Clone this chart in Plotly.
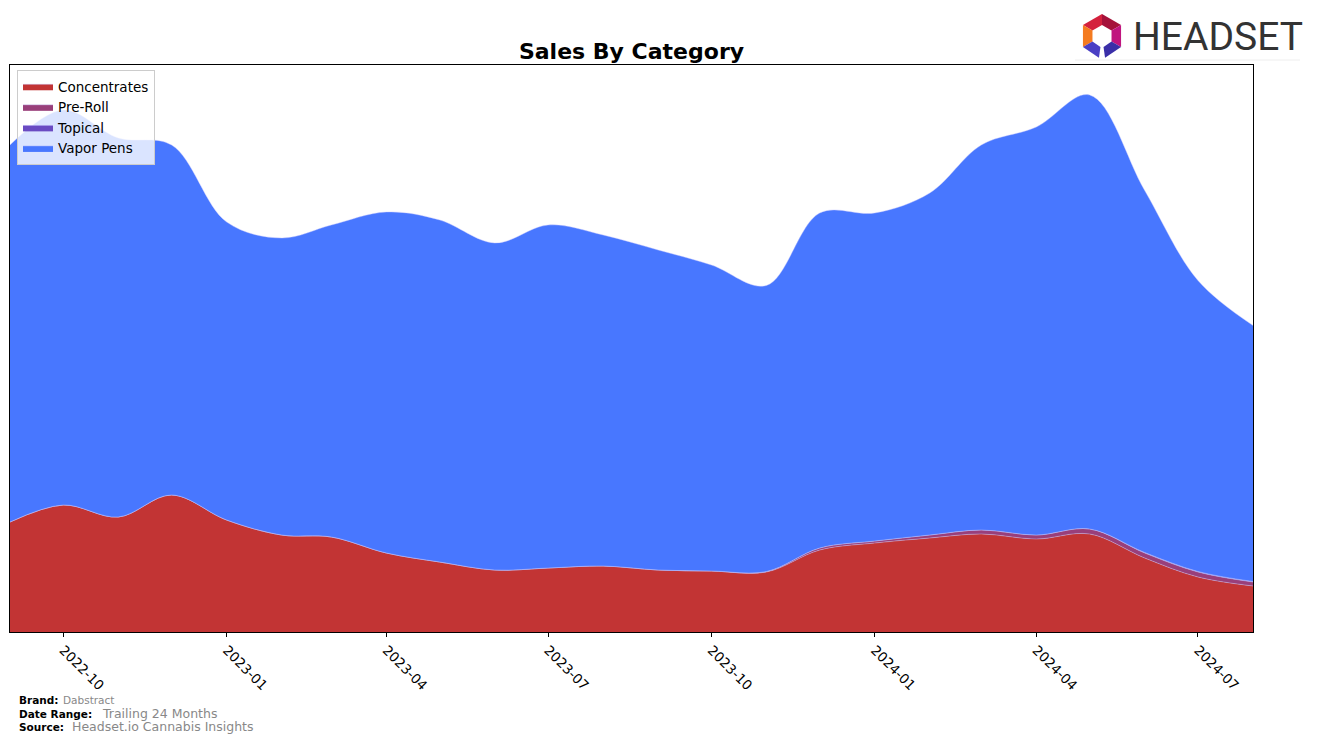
import math
import plotly.graph_objects as go

# ---------------- data ----------------
months = ["2022-09-01", "2022-10-01", "2022-11-01", "2022-12-01", "2023-01-01", "2023-02-01",
          "2023-03-01", "2023-04-01", "2023-05-01", "2023-06-01", "2023-07-01", "2023-08-01",
          "2023-09-01", "2023-10-01", "2023-11-01", "2023-12-01", "2024-01-01", "2024-02-01",
          "2024-03-01", "2024-04-01", "2024-05-01", "2024-06-01", "2024-07-01", "2024-08-01"]

concentrates = [110, 127, 115, 137, 112, 97, 95, 79, 70, 62, 64, 66,
                62, 61, 60, 82, 89, 94, 98, 93, 98, 74, 55, 46]
pre_roll = [0, 0, 0, 0, 0, 0, 0, 0, 0, 0, 0, 0,
            0, 0, 0.5, 2, 2, 3, 4, 4, 5, 5, 5, 4]
topical = [0, 0, 0, 0, 0, 0, 0, 0, 0, 0, 0, 0,
           0, 0, 0, 0, 0, 0, 0, 0, 0, 0.5, 0.5, 0.5]
vapor_pens = [377, 395, 379, 350, 298, 297, 312, 341, 342, 327, 343, 331,
              320, 306, 286, 335, 328, 342, 385, 408, 434, 362, 291, 256]

tick_vals = ["2022-10-01", "2023-01-01", "2023-04-01", "2023-07-01",
             "2023-10-01", "2024-01-01", "2024-04-01", "2024-07-01"]
tick_text = ["2022-10", "2023-01", "2023-04", "2023-07",
             "2023-10", "2024-01", "2024-04", "2024-07"]

series = [
    ("Concentrates", concentrates, "#c23434"),
    ("Pre-Roll", pre_roll, "#993f7a"),
    ("Topical", topical, "#6a4bc2"),
    ("Vapor Pens", vapor_pens, "#4877ff"),
]

# ---------------- layout helpers ----------------
W, H = 1317, 743
PL, PR, PT, PB = 10, 1253, 65, 632


def px(x):
    return (x - PL) / (PR - PL)


def py(y):
    return (PB - y) / (PB - PT)


fig = go.Figure()
for name, vals, col in series:
    fig.add_trace(go.Scatter(
        x=months, y=vals, name=name, mode="lines", legendgroup=name,
        stackgroup="one", line=dict(width=0.7, color="rgba(200,200,255,0.6)", shape="spline", smoothing=1.0),
        fillcolor=col,
    ))

annotations = [
    dict(text="<b>Brand:</b>", x=px(17), y=py(700), font=dict(size=10.5, color="black")),
    dict(text="Dabstract", x=px(61), y=py(700), font=dict(size=10.5, color="#888888")),
    dict(text="<b>Date Range:</b>", x=px(17), y=py(714), font=dict(size=10.5, color="black")),
    dict(text="Trailing 24 Months", x=px(100), y=py(713.5), font=dict(size=12.5, color="#888888")),
    dict(text="<b>Source:</b>", x=px(17), y=py(727), font=dict(size=10.5, color="black")),
    dict(text="Headset.io Cannabis Insights", x=px(70), y=py(726.5), font=dict(size=12.5, color="#888888")),
    dict(text="HEADSET", x=px(1131), y=py(37), font=dict(size=39, color="#333333", family="Roboto")),
]
for a in annotations:
    a.update(xref="paper", yref="paper", xanchor="left", yanchor="middle", showarrow=False)
    a["font"].setdefault("family", "DejaVu Sans")

# logo icon: hexagonal ring segments
cx, cy, ro, ri = 1102, 36, 22, 11
segs = [(90, 150, "#d4213d"), (30, 90, "#a5123a"), (150, 210, "#f47b20"),
        (330, 390, "#c0157f"), (210, 262, "#4a3fc4"), (278, 330, "#3a2fa8")]
shapes = []
for a0, a1, col in segs:
    pts = []
    for ang, r in [(a0, ro), (a1, ro), (a1, ri), (a0, ri)]:
        t = math.radians(ang)
        pts.append((px(cx + r * math.cos(t)), py(cy - r * math.sin(t))))
    path = "M " + " L ".join(f"{x:.5f},{y:.5f}" for x, y in pts) + " Z"
    shapes.append(dict(type="path", path=path, xref="paper", yref="paper",
                       fillcolor=col, line=dict(width=0)))
shapes.append(dict(type="line", xref="paper", yref="paper", x0=px(1075), x1=px(1300),
                   y0=py(60), y1=py(60), line=dict(color="#eeeeee", width=1)))

fig.update_layout(
    width=W, height=H,
    margin=dict(l=PL, r=W - PR, t=PT, b=H - PB),
    paper_bgcolor="white", plot_bgcolor="white",
    font=dict(family="DejaVu Sans", color="black"),
    title=dict(text="<b>Sales By Category</b>", x=px(631.5), xref="paper", xanchor="center",
               y=1 - 51 / H, yref="container", yanchor="middle",
               font=dict(size=22, family="DejaVu Sans", color="black")),
    xaxis=dict(type="date", range=[months[0], months[-1]], tickvals=tick_vals, ticktext=tick_text,
               tickangle=45, ticks="outside", ticklen=4, tickcolor="black",
               showline=True, mirror=True, linecolor="black", linewidth=1,
               showgrid=False, zeroline=False, tickfont=dict(size=13.5, family="DejaVu Sans")),
    yaxis=dict(range=[0, PB - PT], showticklabels=False, ticks="", showgrid=False, zeroline=False,
               showline=True, mirror=True, linecolor="black", linewidth=1),
    legend=dict(x=px(17), y=py(70), xanchor="left", yanchor="top",
                bgcolor="rgba(255,255,255,0.8)", bordercolor="#cccccc", borderwidth=1,
                font=dict(size=13.5, family="DejaVu Sans"), traceorder="normal",
                tracegroupgap=1),
    annotations=annotations,
    shapes=shapes,
    showlegend=True,
)

fig.write_html("out.html")
